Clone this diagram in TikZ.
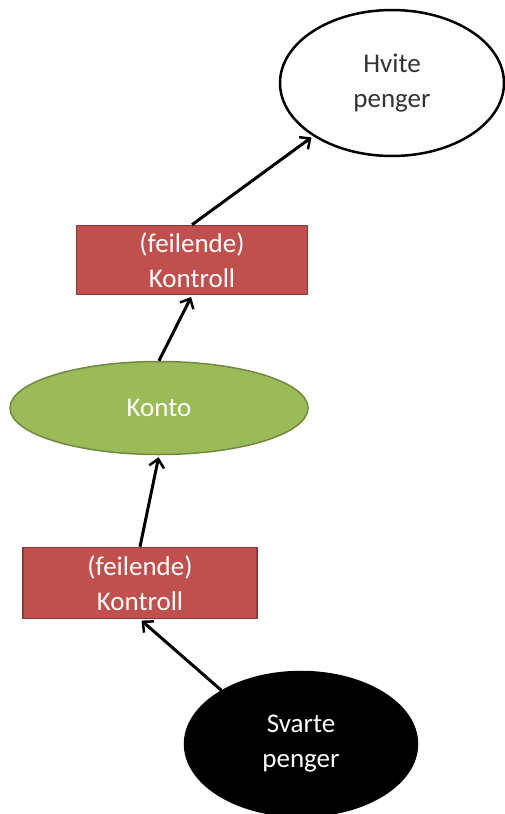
\documentclass[tikz,border=0pt]{standalone}
\usepackage{fontspec}
\setmainfont{Carlito}
\usetikzlibrary{shapes.geometric, arrows.meta, positioning}
\definecolor{kontrollred}{HTML}{C0504D}
\definecolor{kontrollline}{HTML}{8C3836}
\definecolor{kontogreen}{HTML}{9BBB59}
\definecolor{kontoline}{HTML}{71893F}
\tikzset{
    kontroll/.style={rectangle, fill=kontrollred, draw=kontrollline, line width=1.5pt,
        minimum width=231pt, minimum height=69pt, inner sep=0pt, align=center, text=white},
    penger/.style={ellipse, line width=2.5pt, inner sep=0pt, align=center},
    flow/.style={-{Straight Barb[length=8pt, width=15pt, line width=2.5pt]}, line width=3pt, shorten >=2pt}
}

\begin{document}
\begin{tikzpicture}[x=1pt, y=-1pt, font=\fontsize{27}{35}\selectfont]
        \useasboundingbox[fill=white] (0,0) rectangle (505,814);
        \node[penger, draw=black, fill=white, text=black!80, minimum width=224pt, minimum height=146pt] (hvite) at (392,83) {Hvite\\penger};
        \node[kontroll] (kontroll2) at (192,260) {(feilende)\\Kontroll};
        \node[ellipse, fill=kontogreen, draw=kontoline, line width=1.5pt, text=white, inner sep=0pt,
            minimum width=298pt, minimum height=93pt] (konto) at (159,408) {Konto};
        \node[kontroll, minimum width=234pt, minimum height=71pt] (kontroll1) at (140,583) {(feilende)\\Kontroll};
        \node[penger, draw=black, fill=black, text=white, minimum width=232pt, minimum height=144pt] (svarte) at (301,744) {Svarte\\penger};

        \draw[flow] (svarte.146) -- (kontroll1.south);
        \draw[flow] (kontroll1.north) -- (konto.south);
        \draw[flow] (konto.north) -- (kontroll2.south);
        \draw[flow] (kontroll2.north) -- (hvite.214);
    \end{tikzpicture}
\end{document}
